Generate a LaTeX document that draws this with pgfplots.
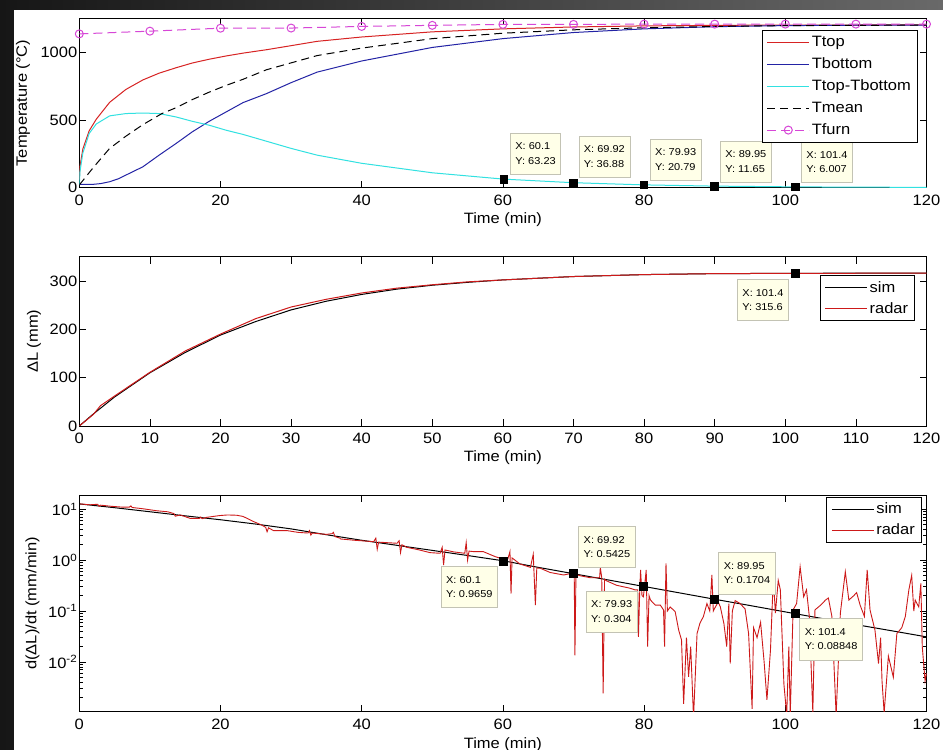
\documentclass[border=0pt]{standalone}
\usepackage{fontspec}
\setmainfont{Liberation Sans}[FakeStretch=1.1]
\usepackage{pgfplots}
\pgfplotsset{compat=1.18}

\definecolor{ctop}{RGB}{215,35,35}
\definecolor{cbot}{RGB}{35,35,165}
\definecolor{ccyan}{RGB}{50,225,225}
\definecolor{cmag}{RGB}{215,70,215}
\definecolor{cradar}{RGB}{205,25,25}
\definecolor{tipfill}{RGB}{255,255,232}
\definecolor{tipdraw}{RGB}{195,195,180}

\tikzset{tip/.style={draw=tipdraw, fill=tipfill, line width=0.6pt, font=\fontsize{10}{14.3}\selectfont, align=left, inner xsep=5pt, inner ysep=10pt}}

\pgfplotsset{
  base/.style={
    scale only axis, width=847.2pt, xmin=0, xmax=120,
    axis line style={line width=0.7pt},
    tick style={black, line width=0.6pt},
    major tick length=7pt, minor tick length=3.5pt,
    tick align=inside,
    /pgf/number format/assume math mode=true,
    /pgf/number format/1000 sep={},
    scaled ticks=false,
    ticklabel style={font=\fontsize{15}{17}\selectfont},
    xticklabel style={yshift=-3.5pt},
    yticklabel style={xshift=1.5pt},
    label style={font=\fontsize{15}{17}\selectfont},
    xlabel={Time (min)},
    legend cell align=left,
    legend image code/.code={\draw[mark repeat=2,mark phase=2,##1] plot coordinates {(0pt,0pt) (21pt,0pt) (42pt,0pt)};},
    legend style={draw=black, line width=0.7pt, fill=white, font=\fontsize{15}{17}\selectfont, anchor=north east, row sep=5.8pt, inner xsep=4.5pt, inner ysep=4pt},
    clip mode=individual,
  },
}

\begin{document}
\begin{tikzpicture}[x=1pt,y=1pt]
\useasboundingbox (0,0) rectangle (943,750);
\shade[left color={rgb,255:red,22;green,22;blue,22}, right color={rgb,255:red,105;green,105;blue,105}] (0,0) rectangle (943,750);
\fill[white] (14,0) rectangle (943,740);

% ---------------- Panel 1 ----------------
\begin{axis}[base, at={(79.3pt,562.3pt)}, anchor=south west, height=169.4pt,
  ymin=0, ymax=1250, ytick={0,500,1000}, xtick={0,20,...,120},
  ylabel={Temperature (°C)},
  xlabel style={at={(axis description cs:0.5,-0.191)},anchor=center},
  ylabel style={at={(axis description cs:-0.0665,0.5)},anchor=center},
  legend style={at={(axis description cs:0.9896,0.931)}}]
\addplot[ctop, line width=1pt] coordinates {(0,60) (0.1,160) (0.5,285) (1.4,420) (2.4,505) (4.3,630) (6.6,725) (9,795) (11.3,845) (13.7,885) (16,920) (18.4,948) (20.8,972) (23.2,993) (26.5,1018) (30,1048) (33.7,1080) (40,1112) (50,1150) (60,1172) (70,1186) (80,1194) (90,1198) (100,1200) (120,1201)};
\addlegendentry{Ttop}
\addplot[cbot, line width=1pt] coordinates {(0,25) (2,25) (3,30) (4.3,44) (5.5,65) (6.6,93) (9,154) (11.3,240) (13.7,326) (16,412) (18.4,490) (20.8,559) (23.2,628) (26.5,694) (30,775) (33.7,853) (40,935) (50,1035) (60,1100) (70,1145) (80,1172) (90,1188) (100,1196) (110,1199) (120,1200)};
\addlegendentry{Tbottom}
\addplot[ccyan, line width=1pt] coordinates {(0,20) (0.1,120) (0.5,255) (1.4,400) (2.4,470) (4.3,530) (6.6,547) (9,551) (11.3,547) (13.7,522) (16,490) (18.4,461) (20.8,424) (23.2,393) (26.5,343) (30,290) (33.7,240) (40,180) (50,110) (60.1,63.23) (69.92,36.88) (79.93,20.79) (89.95,11.65) (101.4,6.007) (110,4) (120,2.5)};
\addlegendentry{Ttop-Tbottom}
\addplot[black, line width=1pt, dash pattern=on 8pt off 5pt] coordinates {(0,20) (2,150) (4.3,290) (6.6,380) (9,465) (11.7,547) (13.7,590) (16,650) (18.4,705) (20.8,755) (23.2,800) (26.5,870) (33.7,975) (40,1030) (50,1100) (60,1140) (70,1165) (80,1180) (90,1190) (100,1196) (120,1200)};
\addlegendentry{Tmean}
\addplot[cmag, line width=1pt, dash pattern=on 9pt off 5pt, mark=o, mark size=4pt, mark options={solid}] coordinates {(0,1135) (10,1155) (20,1177) (30,1178) (40,1190) (50,1198) (60,1205) (70,1205) (80,1207) (90,1207) (100,1207) (110,1207) (120,1207)};
\addlegendentry{Tfurn}
\addplot[only marks, mark=square*, mark size=3.8pt, black, forget plot] coordinates {(60.1,63.23) (69.92,36.88) (79.93,20.79) (89.95,11.65) (101.4,6.007)};
\node[tip, anchor=south west] at ([xshift=6.5pt,yshift=4.5pt]axis cs:60.1,63.23) {X: 60.1\\Y: 63.23};
\node[tip, anchor=south west] at ([xshift=5.6pt,yshift=5pt]axis cs:69.92,36.88) {X: 69.92\\Y: 36.88};
\node[tip, anchor=south west] at ([xshift=6.3pt,yshift=4.3pt]axis cs:79.93,20.79) {X: 79.93\\Y: 20.79};
\node[tip, anchor=south west] at ([xshift=5.7pt,yshift=3.6pt]axis cs:89.95,11.65) {X: 89.95\\Y: 11.65};
\node[tip, anchor=south west] at ([xshift=6pt,yshift=4pt]axis cs:101.4,6.007) {X: 101.4\\Y: 6.007};
\end{axis}

% ---------------- Panel 2 ----------------
\begin{axis}[base, at={(79.3pt,324pt)}, anchor=south west, height=169.3pt,
  ymin=0, ymax=350, ytick={0,100,200,300}, xtick={0,10,...,120},
  ylabel={ΔL (mm)},
  xlabel style={at={(axis description cs:0.5,-0.189)},anchor=center},
  ylabel style={at={(axis description cs:-0.0535,0.5)},anchor=center},
  legend style={at={(axis description cs:0.9864,0.892)}, row sep=4.5pt}]
\addplot[black, line width=1pt] coordinates {(0,0) (2,25) (5,60) (10,110) (15,152) (20,188) (25,216) (30,240) (35,258) (40,272) (45,283) (50,291) (55,297) (60,302) (70,309) (80,313) (90,315) (101.4,315.6) (110,316) (120,316)};
\addlegendentry{sim}
\addplot[cradar, line width=1pt] coordinates {(0,0) (2,24) (3,42) (5,62) (10,111) (15,155) (20,190) (25,222) (30,246) (35,262) (40,275) (45,285) (50,292) (55,298) (60,302) (70,309) (80,313) (90,315) (101.4,315.6) (120,316)};
\addlegendentry{radar}
\addplot[only marks, mark=square*, mark size=3.8pt, black, forget plot] coordinates {(101.4,315.6)};
\node[tip, anchor=north east] at ([xshift=-6.5pt,yshift=-5.5pt]axis cs:101.4,315.6) {X: 101.4\\Y: 315.6};
\end{axis}

% ---------------- Panel 3 ----------------
\begin{axis}[base, at={(79.3pt,38.3pt)}, anchor=south west, height=216.7pt,
  ymode=log, ymin=0.00105, ymax=19, xtick={0,20,...,120},
  ytick={0.01,0.1,1,10},
  yticklabels={10\textsuperscript{-2},10\textsuperscript{-1},10\textsuperscript{0},10\textsuperscript{1}},
  minor ytick={0.002,0.003,0.004,0.005,0.006,0.007,0.008,0.009,0.02,0.03,0.04,0.05,0.06,0.07,0.08,0.09,0.2,0.3,0.4,0.5,0.6,0.7,0.8,0.9,2,3,4,5,6,7,8,9},
  ylabel={d(ΔL)/dt (mm/min)},
  xlabel style={at={(axis description cs:0.5,-0.15)},anchor=center},
  ylabel style={at={(axis description cs:-0.0552,0.5)},anchor=center},
  legend style={at={(axis description cs:0.9943,0.992)}, row sep=4.5pt}]
\addplot[black, line width=1pt] coordinates {(0,12.7) (5,10.7) (10,8.9) (15,7.4) (20,6.2) (25,5.1) (30,4.1) (35,3.15) (40,2.45) (45,1.95) (50,1.55) (55,1.23) (60.1,0.9659) (65,0.72) (69.92,0.5425) (75,0.405) (79.93,0.304) (85,0.227) (89.95,0.1704) (95,0.128) (101.4,0.08848) (105,0.072) (110,0.054) (115,0.041) (120,0.031)};
\addlegendentry{sim}
\addplot[cradar, line width=0.9pt] coordinates {
(0.1,12.7) (1.5,12.2) (2.6,12.5) (2.8,11.4) (3.0,12.0) (4.5,11.4) (6,11.0) (7.1,11.0) (7.3,11.6) (7.5,10.8) (9,10.2) (11,9.3) (12.5,8.9) (13.4,8.2) (13.6,7.3) (14.3,7.7) (15.7,6.6) (17,6.6) (17.2,7.0) (17.4,6.5) (18,6.9) (19.9,7.5) (21,7.7) (22.3,7.6) (23.2,7.2) (24.7,5.7) (25.8,4.9) (26.4,4.4) (26.6,3.6) (26.8,4.3) (27.5,3.8) (29.4,3.8) (31,3.5) (32.4,3.4) (32.6,3.8) (32.8,3.1) (33,3.4) (35,3.2) (35.8,3.3) (36.0,3.5) (36.2,2.9) (36.9,2.7)
(37,2.6) (39,2.45) (41.7,2.3) (42.0,2.7) (42.2,1.63) (42.4,2.25) (45,2.14) (45.3,2.4) (45.5,1.4) (45.7,2.0) (46.4,1.78) (48,1.6) (49.7,1.4) (51.1,1.36) (51.4,1.78) (51.6,0.8) (51.8,1.58) (53,1.45) (54.6,1.36) (54.8,2.2) (55.0,1.0) (55.2,1.5) (55.8,1.47) (57.2,1.47) (58.9,1.17) (59.5,1.1)
(60.7,1.05) (61.0,1.47) (61.15,0.22) (61.3,1.1) (61.7,1.0) (62.4,0.84) (63.9,0.72) (64.3,1.3) (64.6,0.13) (64.8,0.7)
(65.3,0.69) (66.7,0.57) (68.6,0.51) (69.8,0.55) (70.1,0.6) (70.2,0.0135) (70.35,0.52) (71,0.49) (72.4,0.45) (73.7,0.45) (73.8,0.72) (74.0,0.45) (74.2,0.0024) (74.4,0.42) (74.7,0.39) (76.1,0.32) (78,0.28) (78.7,0.26) (79.1,0.26) (79.2,0.031) (79.4,0.3) (79.5,0.64) (79.7,0.2) (79.9,0.19) (80.3,0.64) (80.5,0.02) (80.7,0.2) (80.9,0.164) (81.6,0.13) (82.3,0.13) (82.75,0.105) (82.9,0.02) (83.1,0.86) (83.3,0.1) (83.7,0.12) (84.4,0.097) (84.9,0.042) (85.3,0.027) (85.6,0.0015) (86.0,0.03) (86.3,0.0051) (86.6,0.02) (87.0,0.0008) (87.5,0.036) (87.9,0.057) (88.4,0.078) (88.9,0.14) (89.3,0.1) (89.6,0.51) (89.8,0.1) (90.1,0.12) (90.5,0.15)
(90.8,0.12) (91.3,0.057) (91.7,0.02) (92.0,0.14) (92.2,0.0093) (92.5,0.1) (92.9,0.16) (93.6,0.14) (94.3,0.11) (94.8,0.036) (95.3,0.0012) (95.5,0.047) (96,0.03) (96.5,0.06) (97.0,0.01) (97.4,0.0018) (97.9,0.017) (98.3,0.44) (98.6,0.091) (99.0,0.4) (99.3,0.26) (99.8,0.0037) (100.2,0.0009) (100.5,0.02) (100.7,0.0009) (101.1,0.105) (101.6,0.14) (102.1,0.74) (102.6,0.19) (103,0.26) (103.4,0.078) (103.9,0.001) (104.2,0.105) (105,0.13) (105.7,0.164) (106.1,0.18) (106.6,0.078) (107.2,0.0009) (107.8,0.091) (108.5,0.59) (109,0.164) (109.7,0.2) (110.1,0.23) (110.6,0.13) (111.2,0.078) (111.6,0.64) (112,0.105) (112.7,0.042) (113.2,0.0093) (113.5,0.03) (113.7,0.0042) (114,0.001) (114.6,0.013) (115.3,0.005) (115.8,0.036) (116.5,0.047) (117,0.078) (117.5,0.26) (117.9,0.5) (118.2,0.1) (118.4,0.164) (118.9,0.12) (119.2,0.35) (119.4,0.02) (119.8,0.0042) (120,0.006)
};
\addlegendentry{radar}
\addplot[only marks, mark=square*, mark size=4pt, black, forget plot] coordinates {(60.1,0.9659) (69.92,0.5425) (79.93,0.304) (89.95,0.1704) (101.4,0.08848)};
\node[tip, anchor=north east] at ([xshift=-5.7pt,yshift=-5.2pt]axis cs:60.1,0.9659) {X: 60.1\\Y: 0.9659};
\node[tip, anchor=south west] at ([xshift=5.5pt,yshift=5.8pt]axis cs:69.92,0.5425) {X: 69.92\\Y: 0.5425};
\node[tip, anchor=north east] at ([xshift=-6.1pt,yshift=-4.1pt]axis cs:79.93,0.304) {X: 79.93\\Y: 0.304};
\node[tip, anchor=south west] at ([xshift=4.1pt,yshift=5.1pt]axis cs:89.95,0.1704) {X: 89.95\\Y: 0.1704};
\node[tip, anchor=north west] at ([xshift=4.3pt,yshift=-4.5pt]axis cs:101.4,0.08848) {X: 101.4\\Y: 0.08848};
\end{axis}
\end{tikzpicture}
\end{document}
